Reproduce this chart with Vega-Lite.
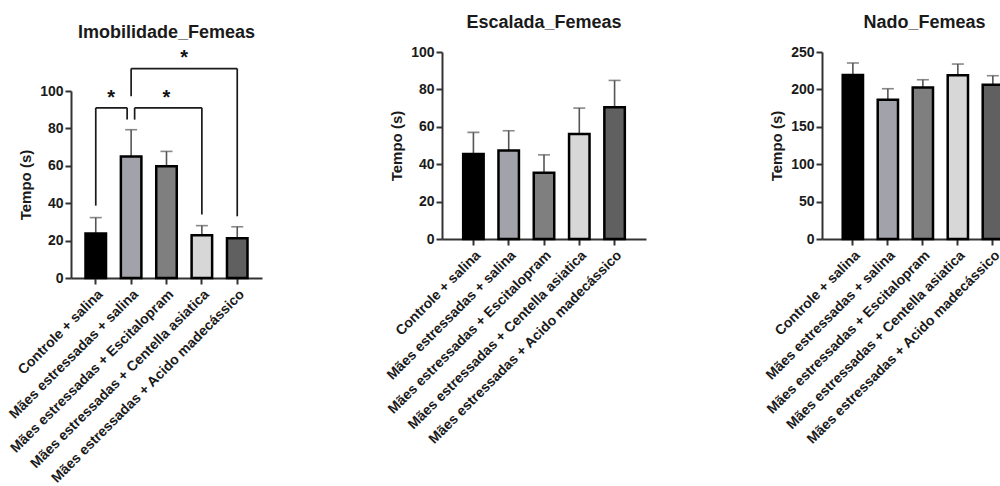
{
  "$schema": "https://vega.github.io/schema/vega-lite/v6.json",
  "background": "white",
  "padding": {"left": 6, "top": 14, "right": 0, "bottom": 0},
  "datasets": {
    "barras": [
      {"painel": "Imobilidade_Femeas", "grupo": "Controle + salina", "valor": 23.8, "erro": 32.3},
      {"painel": "Imobilidade_Femeas", "grupo": "Mães estressadas + salina", "valor": 65.0, "erro": 79.3},
      {"painel": "Imobilidade_Femeas", "grupo": "Mães estressadas + Escitalopram", "valor": 59.8, "erro": 67.7},
      {"painel": "Imobilidade_Femeas", "grupo": "Mães estressadas + Centella asiatica", "valor": 22.8, "erro": 28.0},
      {"painel": "Imobilidade_Femeas", "grupo": "Mães estressadas + Acido madecássico", "valor": 21.2, "erro": 27.4},
      {"painel": "Escalada_Femeas", "grupo": "Controle + salina", "valor": 45.4, "erro": 57.0},
      {"painel": "Escalada_Femeas", "grupo": "Mães estressadas + salina", "valor": 47.3, "erro": 57.9},
      {"painel": "Escalada_Femeas", "grupo": "Mães estressadas + Escitalopram", "valor": 35.4, "erro": 45.0},
      {"painel": "Escalada_Femeas", "grupo": "Mães estressadas + Centella asiatica", "valor": 56.1, "erro": 70.0},
      {"painel": "Escalada_Femeas", "grupo": "Mães estressadas + Acido madecássico", "valor": 70.4, "erro": 84.8},
      {"painel": "Nado_Femeas", "grupo": "Controle + salina", "valor": 219.2, "erro": 235.3},
      {"painel": "Nado_Femeas", "grupo": "Mães estressadas + salina", "valor": 186.2, "erro": 200.9},
      {"painel": "Nado_Femeas", "grupo": "Mães estressadas + Escitalopram", "valor": 202.7, "erro": 212.9},
      {"painel": "Nado_Femeas", "grupo": "Mães estressadas + Centella asiatica", "valor": 218.8, "erro": 233.9},
      {"painel": "Nado_Femeas", "grupo": "Mães estressadas + Acido madecássico", "valor": 206.3, "erro": 218.3}
    ],
    "colchetes": [
      {"id": 1, "de": "Controle + salina", "ate": "Mães estressadas + salina", "topo": 91.0, "y_de": 38.7, "y_ate": 84.7},
      {"id": 2, "de": "Mães estressadas + salina", "ate": "Mães estressadas + Centella asiatica", "topo": 91.0, "y_de": 84.7, "y_ate": 33.9},
      {"id": 3, "de": "Mães estressadas + salina", "ate": "Mães estressadas + Acido madecássico", "topo": 112.0, "y_de": 97.2, "y_ate": 33.0}
    ],
    "asteriscos": [
      {"id": 1, "grupo": "Controle + salina", "y": 92.9, "rotulo": "*"},
      {"id": 2, "grupo": "Mães estressadas + Escitalopram", "y": 92.9, "rotulo": "*"},
      {"id": 3, "grupo": "Mães estressadas + Escitalopram", "y": 114.4, "rotulo": "*"}
    ]
  },
  "bounds": "full",
  "spacing": 122,
  "hconcat": [
    {
      "width": 191,
      "height": 226,
      "title": {"text": "Imobilidade_Femeas", "offset": 6},
      "layer": [
        {
          "data": {"name": "barras"},
          "transform": [{"filter": "datum.painel === 'Imobilidade_Femeas'"}],
          "mark": {"type": "rule", "color": "#555", "strokeWidth": 1.6},
          "encoding": {
            "x": {"field": "grupo", "type": "nominal", "title": null, "scale": {"domain": ["Controle + salina", "Mães estressadas + salina", "Mães estressadas + Escitalopram", "Mães estressadas + Centella asiatica", "Mães estressadas + Acido madecássico"], "paddingInner": 0.42, "paddingOuter": 0.41}},
            "y": {"field": "valor", "type": "quantitative", "title": "Tempo (s)", "scale": {"domain": [0, 100], "nice": false, "range": [226, 39]}},
            "y2": {"field": "erro"}
          }
        },
        {
          "data": {"name": "barras"},
          "transform": [{"filter": "datum.painel === 'Imobilidade_Femeas'"}],
          "mark": {"type": "tick", "color": "#555", "size": 12, "thickness": 1.6},
          "encoding": {
            "x": {"field": "grupo", "type": "nominal", "title": null, "scale": {"domain": ["Controle + salina", "Mães estressadas + salina", "Mães estressadas + Escitalopram", "Mães estressadas + Centella asiatica", "Mães estressadas + Acido madecássico"], "paddingInner": 0.42, "paddingOuter": 0.41}},
            "y": {"field": "erro", "type": "quantitative", "title": "Tempo (s)"}
          }
        },
        {
          "data": {"name": "barras"},
          "transform": [{"filter": "datum.painel === 'Imobilidade_Femeas'"}],
          "mark": {"type": "bar", "stroke": "#000", "strokeWidth": 2.5},
          "encoding": {
            "x": {"field": "grupo", "type": "nominal", "title": null, "scale": {"domain": ["Controle + salina", "Mães estressadas + salina", "Mães estressadas + Escitalopram", "Mães estressadas + Centella asiatica", "Mães estressadas + Acido madecássico"], "paddingInner": 0.42, "paddingOuter": 0.41}},
            "y": {"field": "valor", "type": "quantitative", "title": "Tempo (s)"},
            "color": {"field": "grupo", "type": "nominal", "legend": null, "scale": {"domain": ["Controle + salina", "Mães estressadas + salina", "Mães estressadas + Escitalopram", "Mães estressadas + Centella asiatica", "Mães estressadas + Acido madecássico"], "range": ["#000000", "#a2a2aa", "#7f7f7f", "#d7d7d7", "#606060"]}}
          }
        },
        {
          "data": {"name": "colchetes"},
          "transform": [{"filter": "datum.id === 1"}],
          "mark": {"type": "rule", "color": "#1a1a1a", "strokeWidth": 1.7, "x2Offset": -4},
          "encoding": {
            "x": {"field": "de", "type": "nominal", "title": null, "scale": {"domain": ["Controle + salina", "Mães estressadas + salina", "Mães estressadas + Escitalopram", "Mães estressadas + Centella asiatica", "Mães estressadas + Acido madecássico"], "paddingInner": 0.42, "paddingOuter": 0.41}},
            "x2": {"field": "ate"},
            "y": {"field": "topo", "type": "quantitative", "title": "Tempo (s)"}
          }
        },
        {
          "data": {"name": "colchetes"},
          "transform": [{"filter": "datum.id === 2"}],
          "mark": {"type": "rule", "color": "#1a1a1a", "strokeWidth": 1.7, "xOffset": 3.5},
          "encoding": {
            "x": {"field": "de", "type": "nominal", "title": null, "scale": {"domain": ["Controle + salina", "Mães estressadas + salina", "Mães estressadas + Escitalopram", "Mães estressadas + Centella asiatica", "Mães estressadas + Acido madecássico"], "paddingInner": 0.42, "paddingOuter": 0.41}},
            "x2": {"field": "ate"},
            "y": {"field": "topo", "type": "quantitative", "title": "Tempo (s)"}
          }
        },
        {
          "data": {"name": "colchetes"},
          "transform": [{"filter": "datum.id === 3"}],
          "mark": {"type": "rule", "color": "#1a1a1a", "strokeWidth": 1.7},
          "encoding": {
            "x": {"field": "de", "type": "nominal", "title": null, "scale": {"domain": ["Controle + salina", "Mães estressadas + salina", "Mães estressadas + Escitalopram", "Mães estressadas + Centella asiatica", "Mães estressadas + Acido madecássico"], "paddingInner": 0.42, "paddingOuter": 0.41}},
            "x2": {"field": "ate"},
            "y": {"field": "topo", "type": "quantitative", "title": "Tempo (s)"}
          }
        },
        {
          "data": {"name": "colchetes"},
          "transform": [{"filter": "datum.id !== 2"}],
          "mark": {"type": "rule", "color": "#1a1a1a", "strokeWidth": 1.7},
          "encoding": {
            "x": {"field": "de", "type": "nominal", "title": null, "scale": {"domain": ["Controle + salina", "Mães estressadas + salina", "Mães estressadas + Escitalopram", "Mães estressadas + Centella asiatica", "Mães estressadas + Acido madecássico"], "paddingInner": 0.42, "paddingOuter": 0.41}},
            "y": {"field": "y_de", "type": "quantitative", "title": "Tempo (s)"},
            "y2": {"field": "topo"}
          }
        },
        {
          "data": {"name": "colchetes"},
          "transform": [{"filter": "datum.id === 2"}],
          "mark": {"type": "rule", "color": "#1a1a1a", "strokeWidth": 1.7, "xOffset": 3.5},
          "encoding": {
            "x": {"field": "de", "type": "nominal", "title": null, "scale": {"domain": ["Controle + salina", "Mães estressadas + salina", "Mães estressadas + Escitalopram", "Mães estressadas + Centella asiatica", "Mães estressadas + Acido madecássico"], "paddingInner": 0.42, "paddingOuter": 0.41}},
            "y": {"field": "y_de", "type": "quantitative", "title": "Tempo (s)"},
            "y2": {"field": "topo"}
          }
        },
        {
          "data": {"name": "colchetes"},
          "transform": [{"filter": "datum.id !== 1"}],
          "mark": {"type": "rule", "color": "#1a1a1a", "strokeWidth": 1.7},
          "encoding": {
            "x": {"field": "ate", "type": "nominal", "title": null, "scale": {"domain": ["Controle + salina", "Mães estressadas + salina", "Mães estressadas + Escitalopram", "Mães estressadas + Centella asiatica", "Mães estressadas + Acido madecássico"], "paddingInner": 0.42, "paddingOuter": 0.41}},
            "y": {"field": "y_ate", "type": "quantitative", "title": "Tempo (s)"},
            "y2": {"field": "topo"}
          }
        },
        {
          "data": {"name": "colchetes"},
          "transform": [{"filter": "datum.id === 1"}],
          "mark": {"type": "rule", "color": "#1a1a1a", "strokeWidth": 1.7, "xOffset": -4},
          "encoding": {
            "x": {"field": "ate", "type": "nominal", "title": null, "scale": {"domain": ["Controle + salina", "Mães estressadas + salina", "Mães estressadas + Escitalopram", "Mães estressadas + Centella asiatica", "Mães estressadas + Acido madecássico"], "paddingInner": 0.42, "paddingOuter": 0.41}},
            "y": {"field": "y_ate", "type": "quantitative", "title": "Tempo (s)"},
            "y2": {"field": "topo"}
          }
        },
        {
          "data": {"name": "asteriscos"},
          "transform": [{"filter": "datum.id === 1"}],
          "mark": {"type": "text", "font": "Liberation Sans", "fontWeight": "bold", "fontSize": 20, "baseline": "alphabetic", "color": "#111"},
          "encoding": {
            "x": {"field": "grupo", "type": "nominal", "title": null, "bandPosition": 1.25, "scale": {"domain": ["Controle + salina", "Mães estressadas + salina", "Mães estressadas + Escitalopram", "Mães estressadas + Centella asiatica", "Mães estressadas + Acido madecássico"], "paddingInner": 0.42, "paddingOuter": 0.41}},
            "y": {"field": "y", "type": "quantitative", "title": "Tempo (s)"},
            "text": {"field": "rotulo"}
          }
        },
        {
          "data": {"name": "asteriscos"},
          "transform": [{"filter": "datum.id === 2"}],
          "mark": {"type": "text", "font": "Liberation Sans", "fontWeight": "bold", "fontSize": 20, "baseline": "alphabetic", "color": "#111"},
          "encoding": {
            "x": {"field": "grupo", "type": "nominal", "title": null, "bandPosition": 0.5, "scale": {"domain": ["Controle + salina", "Mães estressadas + salina", "Mães estressadas + Escitalopram", "Mães estressadas + Centella asiatica", "Mães estressadas + Acido madecássico"], "paddingInner": 0.42, "paddingOuter": 0.41}},
            "y": {"field": "y", "type": "quantitative", "title": "Tempo (s)"},
            "text": {"field": "rotulo"}
          }
        },
        {
          "data": {"name": "asteriscos"},
          "transform": [{"filter": "datum.id === 3"}],
          "mark": {"type": "text", "font": "Liberation Sans", "fontWeight": "bold", "fontSize": 20, "baseline": "alphabetic", "color": "#111"},
          "encoding": {
            "x": {"field": "grupo", "type": "nominal", "title": null, "bandPosition": 1.36, "scale": {"domain": ["Controle + salina", "Mães estressadas + salina", "Mães estressadas + Escitalopram", "Mães estressadas + Centella asiatica", "Mães estressadas + Acido madecássico"], "paddingInner": 0.42, "paddingOuter": 0.41}},
            "y": {"field": "y", "type": "quantitative", "title": "Tempo (s)"},
            "text": {"field": "rotulo"}
          }
        }
      ]
    },
    {
      "bounds": "full",
      "spacing": 117,
      "hconcat": [
        {
          "width": 204,
          "height": 187,
          "title": {"text": "Escalada_Femeas", "offset": 13},
          "data": {"name": "barras"},
          "transform": [{"filter": "datum.painel === 'Escalada_Femeas'"}],
          "encoding": {
            "x": {"field": "grupo", "type": "nominal", "title": null, "scale": {"domain": ["Controle + salina", "Mães estressadas + salina", "Mães estressadas + Escitalopram", "Mães estressadas + Centella asiatica", "Mães estressadas + Acido madecássico"], "paddingInner": 0.42, "paddingOuter": 0.6}}
          },
          "layer": [
            {
              "mark": {"type": "rule", "color": "#555", "strokeWidth": 1.6},
              "encoding": {
                "y": {"field": "valor", "type": "quantitative", "title": "Tempo (s)", "scale": {"domain": [0, 100], "nice": false}},
                "y2": {"field": "erro"}
              }
            },
            {
              "mark": {"type": "tick", "color": "#555", "size": 12, "thickness": 1.6},
              "encoding": {"y": {"field": "erro", "type": "quantitative", "title": "Tempo (s)"}}
            },
            {
              "mark": {"type": "bar", "stroke": "#000", "strokeWidth": 2.5},
              "encoding": {
                "y": {"field": "valor", "type": "quantitative", "title": "Tempo (s)"},
                "color": {"field": "grupo", "type": "nominal", "legend": null, "scale": {"domain": ["Controle + salina", "Mães estressadas + salina", "Mães estressadas + Escitalopram", "Mães estressadas + Centella asiatica", "Mães estressadas + Acido madecássico"], "range": ["#000000", "#a2a2aa", "#7f7f7f", "#d7d7d7", "#606060"]}}
              }
            }
          ]
        },
        {
          "width": 181,
          "height": 187,
          "title": {"text": "Nado_Femeas", "offset": 13, "dx": 12},
          "data": {"name": "barras"},
          "transform": [{"filter": "datum.painel === 'Nado_Femeas'"}],
          "encoding": {
            "x": {"field": "grupo", "type": "nominal", "title": null, "scale": {"domain": ["Controle + salina", "Mães estressadas + salina", "Mães estressadas + Escitalopram", "Mães estressadas + Centella asiatica", "Mães estressadas + Acido madecássico"], "paddingInner": 0.42, "paddingOuter": 0.296, "align": 1}}
          },
          "layer": [
            {
              "mark": {"type": "rule", "color": "#555", "strokeWidth": 1.6},
              "encoding": {
                "y": {"field": "valor", "type": "quantitative", "title": "Tempo (s)", "scale": {"domain": [0, 250], "nice": false}},
                "y2": {"field": "erro"}
              }
            },
            {
              "mark": {"type": "tick", "color": "#555", "size": 12, "thickness": 1.6},
              "encoding": {"y": {"field": "erro", "type": "quantitative", "title": "Tempo (s)"}}
            },
            {
              "mark": {"type": "bar", "stroke": "#000", "strokeWidth": 2.5},
              "encoding": {
                "y": {"field": "valor", "type": "quantitative", "title": "Tempo (s)"},
                "color": {"field": "grupo", "type": "nominal", "legend": null, "scale": {"domain": ["Controle + salina", "Mães estressadas + salina", "Mães estressadas + Escitalopram", "Mães estressadas + Centella asiatica", "Mães estressadas + Acido madecássico"], "range": ["#000000", "#a2a2aa", "#7f7f7f", "#d7d7d7", "#606060"]}}
              }
            }
          ]
        }
      ]
    }
  ],
  "config": {
    "font": "Liberation Sans",
    "view": {"stroke": null},
    "title": {"font": "Liberation Sans", "fontSize": 18, "fontWeight": "bold", "color": "#1a1a1a", "frame": "group", "anchor": "middle"},
    "axis": {"domainColor": "#333", "domainWidth": 2, "tickColor": "#333", "tickWidth": 2, "tickSize": 6, "labelColor": "#1a1a1a", "labelFont": "Liberation Sans", "labelFontWeight": "bold", "titleFont": "Liberation Sans", "titleFontWeight": "bold", "titleColor": "#1a1a1a", "grid": false, "labelOverlap": false, "labelLimit": 400},
    "axisX": {"labelAngle": -45, "labelFontSize": 14, "labelPadding": 3},
    "axisY": {"labelFontSize": 14, "titleFontSize": 15, "labelPadding": 2, "titlePadding": 6, "tickCount": 5}
  }
}
